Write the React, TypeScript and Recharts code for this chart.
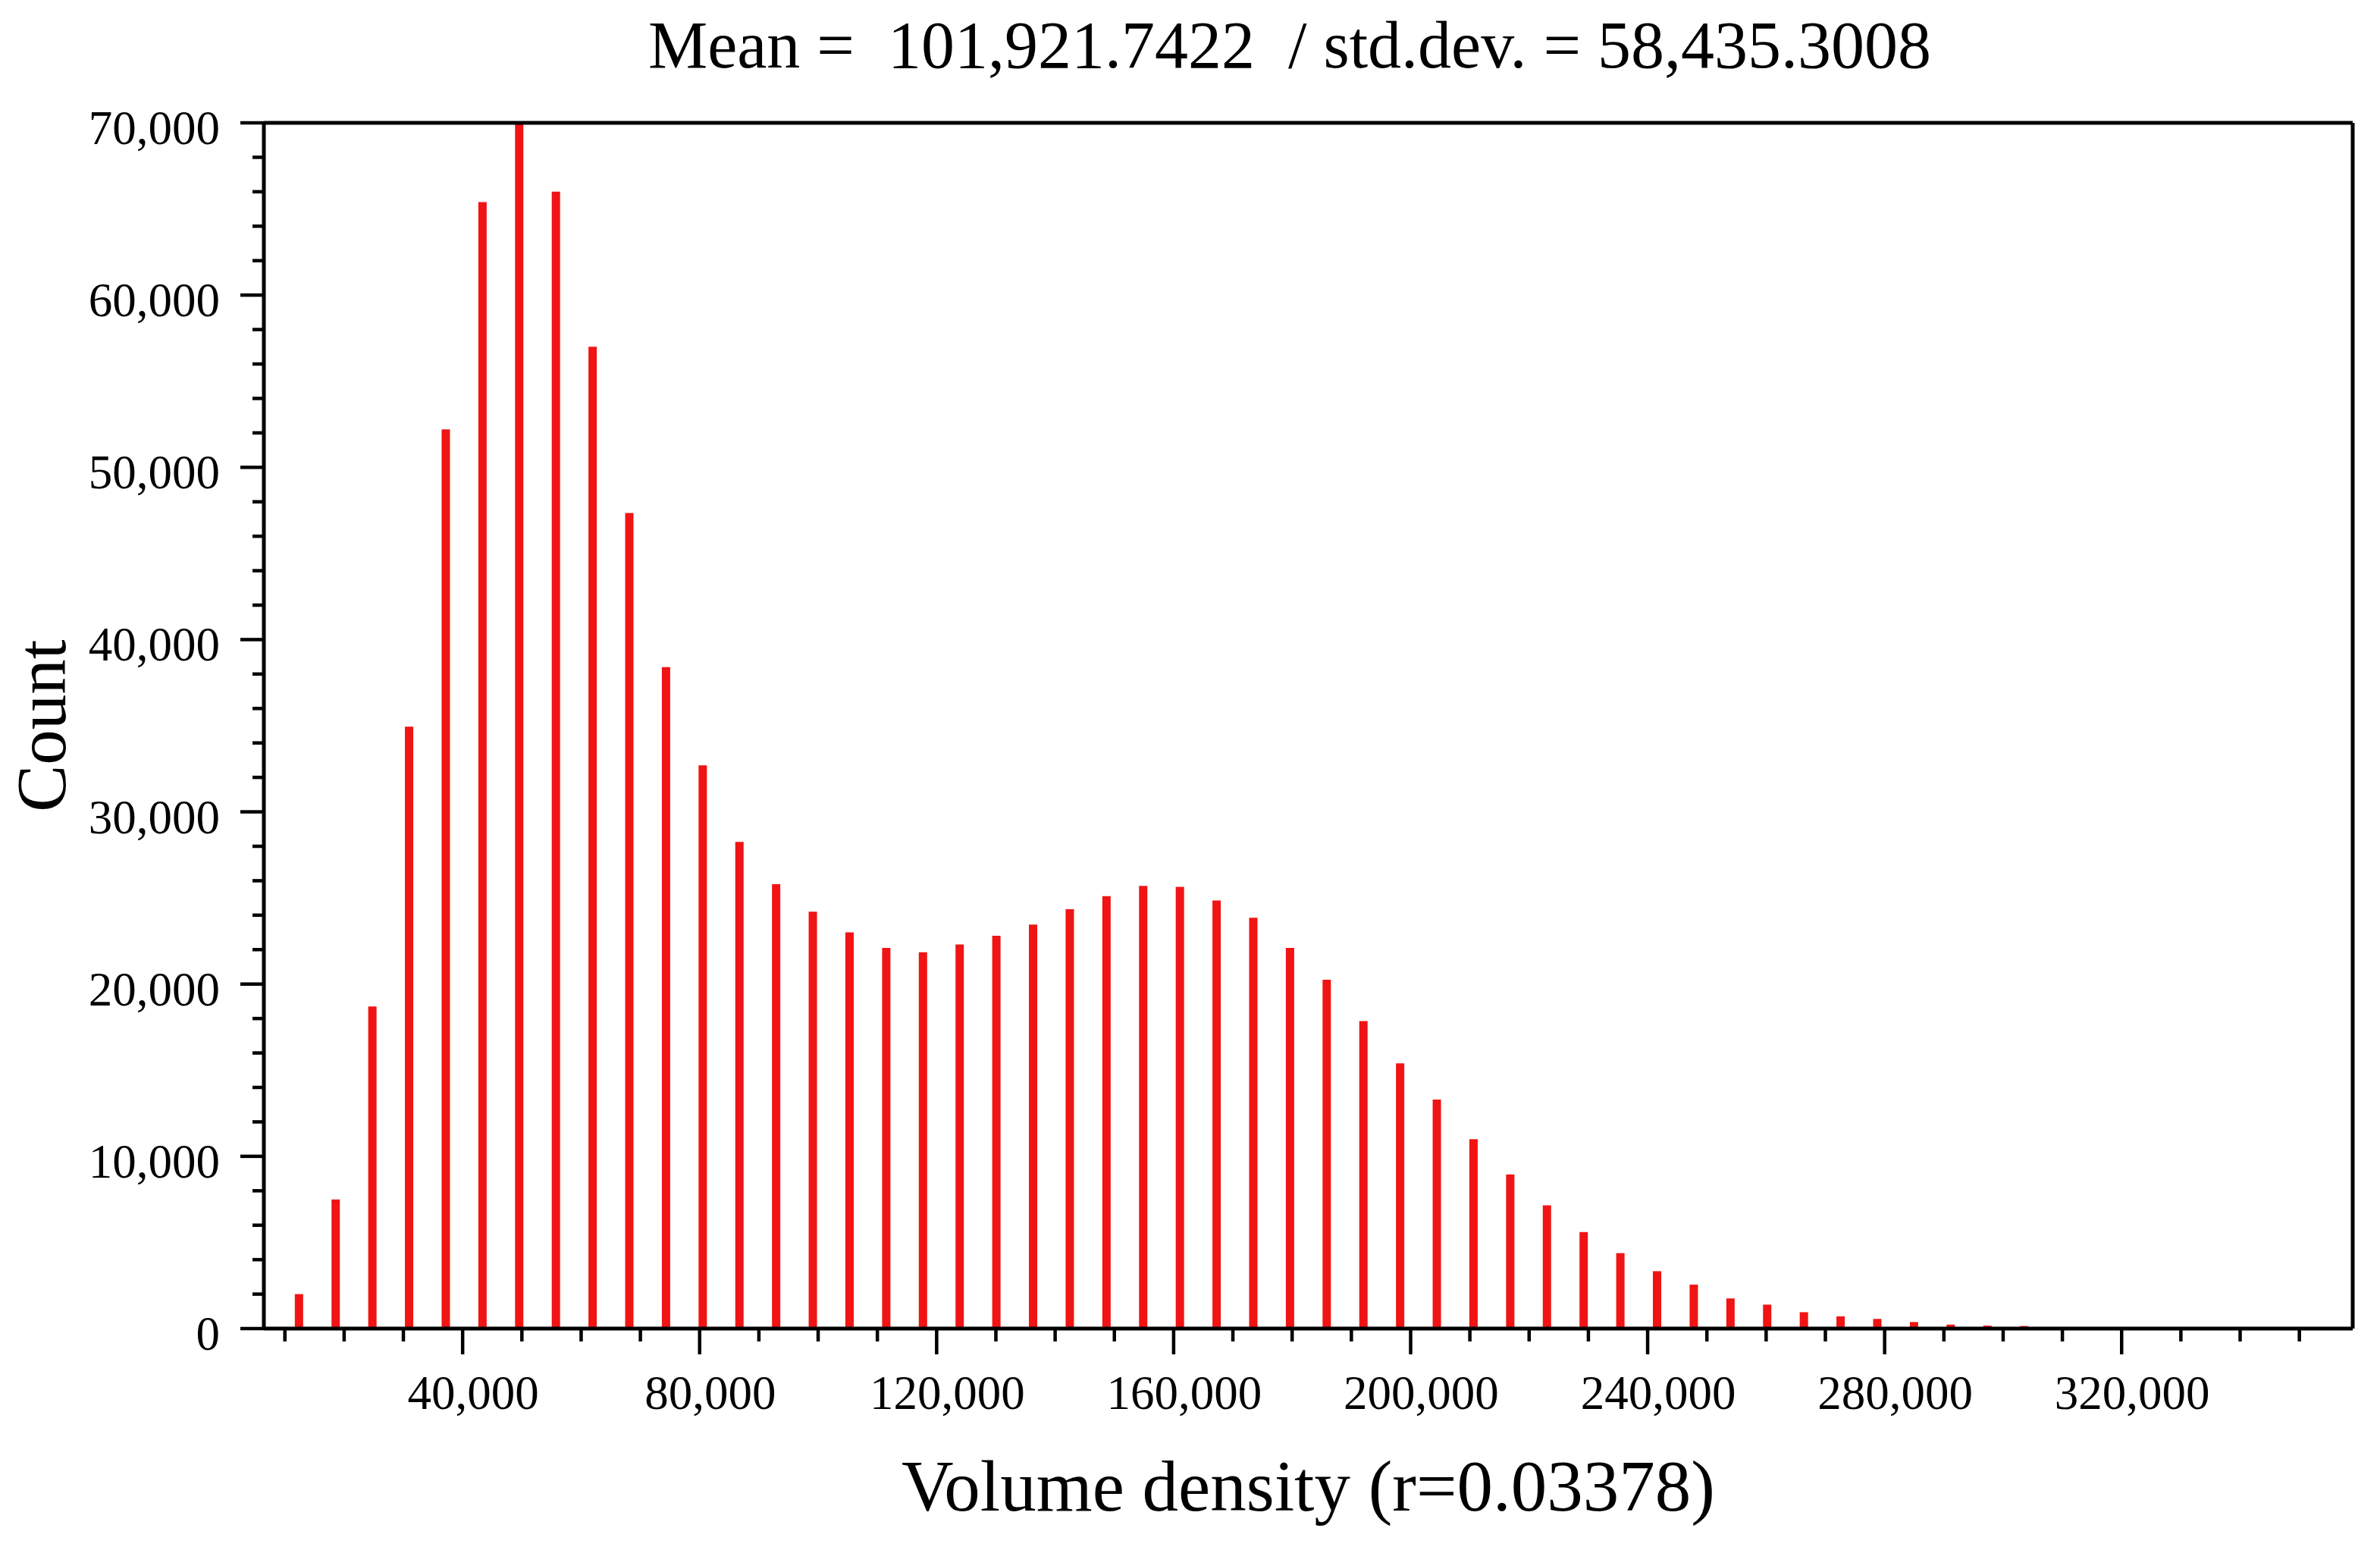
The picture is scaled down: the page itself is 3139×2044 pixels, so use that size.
import React from 'react';
import { BarChart, Bar, XAxis, YAxis, ReferenceLine, Label } from 'recharts';

const FONT = '"Liberation Serif", "Times New Roman", serif';

// bin centres of the histogram (Volume density)
const binCenters = [
  12340, 18535, 24730, 30925, 37120, 43315, 49510, 55705, 61900, 68095,
  74290, 80485, 86680, 92875, 99070, 105265, 111460, 117655, 123850, 130045,
  136240, 142435, 148630, 154825, 161020, 167215, 173410, 179605, 185800, 191995,
  198190, 204385, 210580, 216775, 222970, 229165, 235360, 241555, 247750, 253945,
  260140, 266335, 272530, 278725, 284920, 291115, 297310, 303505,
];

// counts
const counts = [
  2000, 7500, 18700, 34950, 52200, 65400, 70000, 66000, 57000, 47350,
  38400, 32700, 28250, 25800, 24200, 23000, 22100, 21850, 22300, 22800,
  23450, 24350, 25100, 25700, 25650, 24850, 23850, 22100, 20250, 17850,
  15400, 13300, 11000, 8950, 7150, 5600, 4380, 3330, 2550, 1750,
  1390, 950, 710, 560, 380, 230, 170, 150,
];

const xTicks = [
  10000, 20000, 30000, 40000, 50000, 60000, 70000, 80000, 90000, 100000,
  110000, 120000, 130000, 140000, 150000, 160000, 170000, 180000, 190000, 200000,
  210000, 220000, 230000, 240000, 250000, 260000, 270000, 280000, 290000, 300000,
  310000, 320000, 330000, 340000, 350000,
];
const xLabelled = [40000, 80000, 120000, 160000, 200000, 240000, 280000, 320000];

const yTicks = Array.from({ length: 36 }, (_, i) => i * 2000);
const yLabelled = [0, 10000, 20000, 30000, 40000, 50000, 60000, 70000];

const X_MIN = 6450;
const X_MAX = 359000;

const data = binCenters.map((x, i) => ({ x, count: counts[i] }));

const fmt = (v: number) => v.toLocaleString('en-US');

const XTick = (props: any) => {
  const { x, y, payload } = props;
  const v = payload.value;
  const major = xLabelled.includes(v);
  return (
    <g>
      <line x1={x} y1={y} x2={x} y2={y + (major ? 34 : 17)} stroke="#000" strokeWidth={4.5} />
      {major && (
        <text x={x + 14} y={y + 106} textAnchor="middle" fontSize={63} fontFamily={FONT} fill="#000">
          {fmt(v)}
        </text>
      )}
    </g>
  );
};

const YTick = (props: any) => {
  const { x, y, payload } = props;
  const v = payload.value;
  const major = yLabelled.includes(v);
  return (
    <g>
      <line x1={x - (major ? 31 : 15)} y1={y} x2={x} y2={y} stroke="#000" strokeWidth={4.5} />
      {major && (
        <text x={x - 58} y={y + 28} textAnchor="end" fontSize={63} fontFamily={FONT} fill="#000">
          {fmt(v)}
        </text>
      )}
    </g>
  );
};

const XTitle = (props: any) => {
  const { viewBox } = props;
  return (
    <text
      x={viewBox.x + viewBox.width / 2}
      y={viewBox.y + 240}
      textAnchor="middle"
      fontSize={95}
      fontFamily={FONT}
      fill="#000"
    >
      Volume density (r=0.03378)
    </text>
  );
};

const YTitle = (props: any) => {
  const { viewBox } = props;
  const cx = viewBox.x + 38;
  const cy = viewBox.y + viewBox.height / 2;
  return (
    <text
      x={cx}
      y={cy}
      transform={`rotate(-90, ${cx}, ${cy})`}
      textAnchor="middle"
      fontSize={93}
      fontFamily={FONT}
      fill="#000"
    >
      Count
    </text>
  );
};

export default function App() {
  return (
    <div style={{ position: 'absolute', left: 0, top: 0, width: 3139, height: 2044, background: '#fff' }}>
      <div
        style={{
          position: 'absolute',
          left: 0,
          top: 16,
          width: 3402,
          textAlign: 'center',
          fontFamily: FONT,
          fontSize: 88,
          lineHeight: 1,
          whiteSpace: 'pre',
          color: '#000',
        }}
      >
        {'Mean =  101,921.7422  / std.dev. = 58,435.3008'}
      </div>
      <BarChart
        width={3139}
        height={2044}
        data={data}
        margin={{ top: 162, right: 36, bottom: 42, left: 48 }}
      >
        <XAxis
          type="number"
          dataKey="x"
          domain={[X_MIN, X_MAX]}
          allowDataOverflow
          ticks={xTicks}
          interval={0}
          height={250}
          tickSize={0}
          tickMargin={0}
          tickLine={false}
          tick={<XTick />}
          axisLine={{ stroke: '#000', strokeWidth: 5 }}
        >
          <Label content={<XTitle />} />
        </XAxis>
        <YAxis
          type="number"
          domain={[0, 70000]}
          allowDataOverflow
          ticks={yTicks}
          interval={0}
          width={300}
          tickSize={0}
          tickMargin={0}
          tickLine={false}
          tick={<YTick />}
          axisLine={{ stroke: '#000', strokeWidth: 5 }}
        >
          <Label content={<YTitle />} />
        </YAxis>
        <ReferenceLine y={70000} stroke="#000" strokeWidth={5} />
        <ReferenceLine x={X_MAX} stroke="#000" strokeWidth={5} />
        <Bar dataKey="count" fill="#f01414" barSize={11} isAnimationActive={false} />
      </BarChart>
    </div>
  );
}
